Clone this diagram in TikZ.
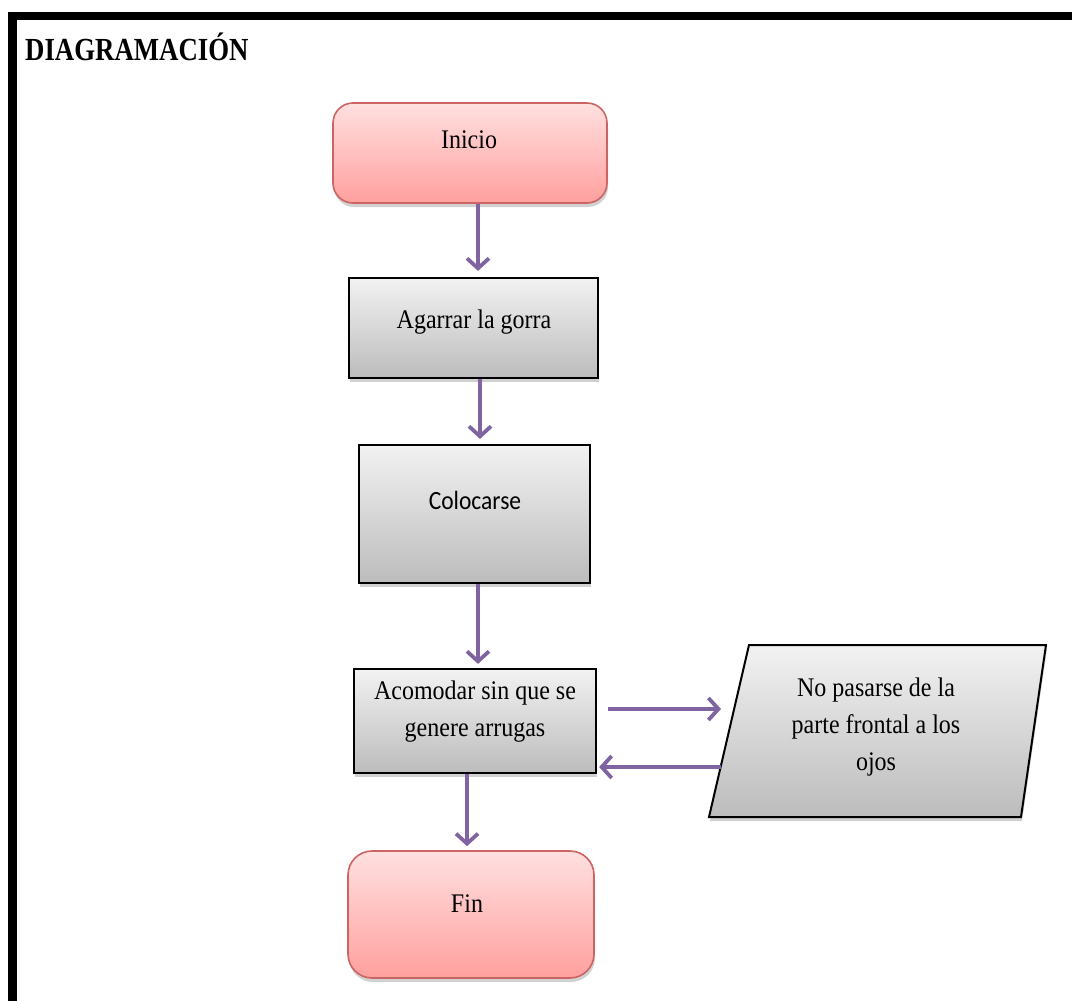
\documentclass[tikz,border=0pt]{standalone}
\usepackage{fontspec}
\usepackage{graphicx}
\setmainfont{Liberation Serif}
\newfontfamily\carl{Carlito}
\usetikzlibrary{arrows.meta,shadows,calc}
\definecolor{pinkT}{RGB}{255,224,224}
\definecolor{pinkB}{RGB}{255,160,158}
\definecolor{pinkD}{RGB}{204,100,100}
\definecolor{grayT}{RGB}{242,242,242}
\definecolor{grayB}{RGB}{188,188,188}
\definecolor{purp}{RGB}{128,100,162}
\newcommand{\vst}[1]{\scalebox{1}[1.12]{#1}}
\begin{document}
\begin{tikzpicture}[x=1pt,y=-1pt,
  shad/.style={drop shadow={shadow xshift=1pt,shadow yshift=-4pt,fill=black,opacity=0.18}},
  term/.style={rectangle,rounded corners=20pt,draw=pinkD,line width=1.6pt,top color=pinkT,bottom color=pinkB,inner sep=0pt,shad},
  procbox/.style={rectangle,draw=black,line width=2.2pt,top color=grayT,bottom color=grayB,inner sep=0pt,shad},
  txt/.style={inner sep=0pt,font=\fontsize{24}{33}\selectfont},
  arr/.style={draw=purp,line width=3.8pt,-{Straight Barb[length=10pt,width=22pt]}}
]
\useasboundingbox (0,0) rectangle (1072,1001);
% frame
\draw[line width=8.5pt,line join=miter] (12.5,1001) -- (12.5,16) -- (1072,16);
\node[anchor=base west,inner sep=0pt] (title) at (25,60)
  {\scalebox{1}[1.2]{\fontsize{26.8}{30}\selectfont\bfseries DIAGRAMACIÓN}};
% shapes
\node[term,minimum width=274pt,minimum height=100pt] (ini) at (470,153) {};
\node[procbox,minimum width=249pt,minimum height=100pt] (s1) at (473.5,328) {};
\node[procbox,minimum width=231pt,minimum height=138pt] (s2) at (474.5,514) {};
\node[procbox,minimum width=242pt,minimum height=104pt] (s3) at (475,721) {};
\node[term,rounded corners=24pt,minimum width=246pt,minimum height=127pt] (fin) at (471,914.5) {};
\coordinate (p1) at (749,645);
\coordinate (p2) at (1046,645);
\coordinate (p3) at (1021,817);
\coordinate (p4) at (709,817);
\draw[line width=2pt,top color=grayT,bottom color=grayB,shad] (p1) -- (p2) -- (p3) -- (p4) -- cycle;
\coordinate (pin) at (735,709);
\coordinate (pout) at (721,767);
% texts
\node[txt,anchor=base] (tini) at (469,148) {\vst{Inicio}};
\node[txt,anchor=base] (ts1) at (474,328) {\vst{Agarrar la gorra}};
\node[inner sep=0pt,anchor=base] (ts2) at (475,509) {\vst{\fontsize{23.5}{30}\selectfont\carl Colocarse}};
\node[txt] (ts3) at (475,711) {\vst{\begin{tabular}{@{}c@{}}Acomodar sin que se\\genere arrugas\end{tabular}}};
\node[txt] (tp) at (876,726) {\vst{\begin{tabular}{@{}c@{}}No pasarse de la\\parte frontal a los\\ojos\end{tabular}}};
\node[txt,anchor=base] (tfin) at (467,912) {\vst{Fin}};
% arrows
\draw[arr,shorten >=6pt] ([xshift=8pt]ini.south) -- ([xshift=8pt]ini.south |- s1.north);
\draw[arr,shorten >=5pt] ([xshift=6.5pt]s1.south) -- ([xshift=6.5pt]s1.south |- s2.north);
\draw[arr,shorten >=4pt] ([xshift=3.5pt]s2.south) -- ([xshift=3.5pt]s2.south |- s3.north);
\draw[arr,shorten <=11pt,shorten >=14pt] (s3.east |- pin) -- (pin);
\draw[arr,shorten >=2pt] (pout) -- (s3.east |- pout);
\draw[arr,shorten >=4pt] ([xshift=-8pt]s3.south) -- ([xshift=-8pt]s3.south |- fin.north);
\end{tikzpicture}
\end{document}
